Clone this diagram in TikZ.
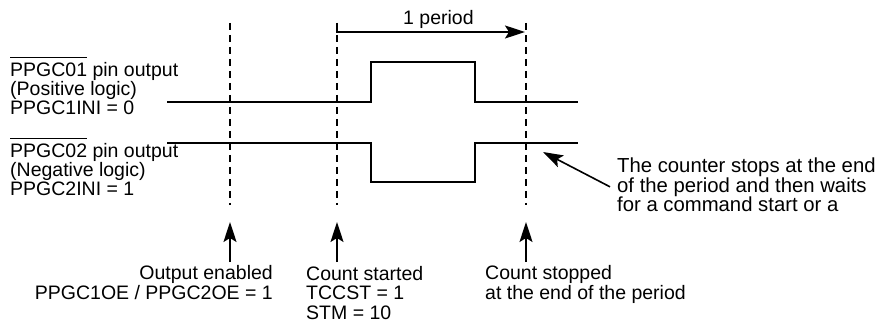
\documentclass[tikz,border=0pt]{standalone}
\usepackage{fontspec}
\setmainfont{Liberation Sans}
\usetikzlibrary{arrows.meta}
% bar over a pin name
\newcommand{\pinbar}[1]{\leavevmode\setbox0\hbox{#1}%
  \rlap{\rule[\dimexpr\ht0+4.5pt\relax]{\wd0}{1.5pt}}\box0\relax}

\tikzset{
  signal/.style={line width=2.2pt},
  marker/.style={line width=1.2pt,dash pattern=on 7pt off 5pt},
  pointer/.style={line width=1.6pt,-{Stealth[length=20pt,width=13pt,inset=4pt]}},
  txt/.style={inner sep=0pt,align=left,font=\fontsize{19.5}{19.4}\selectfont},
}

\begin{document}
\begin{tikzpicture}[x=1pt,y=-1pt]
    \useasboundingbox (0,0) rectangle (878,323);
    % time markers
    \coordinate (en top) at (230,23);
    \coordinate (en bot) at (230,205);
    \coordinate (st top) at (337,23);
    \coordinate (st bot) at (337,205);
    \coordinate (sp top) at (526,23);
    \coordinate (sp bot) at (526,205);
    \draw[marker] (en top) -- (en bot);
    \draw[marker] (st top) -- (st bot);
    \draw[marker] (sp top) -- (sp bot);
    % 1 period
    \coordinate (per end) at (525,32);
    \draw[pointer] (st top) |- (per end);
    \node[txt,anchor=base west] (period) at (403,25) {1 period};
    % positive logic output
    \draw[signal] (167,102) -- (371,102) |- (475,62) |- (578,102);
    \node[txt,anchor=base west] (pos) at (10,115)
      {\pinbar{PPGC01} pin output\\(Positive logic)\\PPGC1INI = 0};
    % negative logic output
    \draw[signal] (167,143) -- (371,143) |- (475,182) |- (578,143);
    \node[txt,anchor=base west] (neg) at (10,196)
      {\pinbar{PPGC02} pin output\\(Negative logic)\\PPGC2INI = 1};
    % note on the stop
    \node[txt,anchor=base west,font=\fontsize{20.3}{15.5}\selectfont] (note) at (617,212)
      {The counter stops at the end\\of the period and then waits\\for a command start or a};
    \coordinate (stop pt) at (543,152);
    \draw[pointer] ([xshift=-7pt,yshift=-2pt]note.west) -- (stop pt);
    % events
    \coordinate (en tip) at (230,222);
    \coordinate (en tail) at (230,262);
    \coordinate (st tip) at (337,222);
    \coordinate (st tail) at (337,262);
    \coordinate (sp tip) at (526,222);
    \coordinate (sp tail) at (526,262);
    \draw[pointer] (en tail) -- (en tip);
    \draw[pointer] (st tail) -- (st tip);
    \draw[pointer] (sp tail) -- (sp tip);
    \node[txt,anchor=base east,align=right] (enabled) at (273,299)
      {Output enabled\\PPGC1OE / PPGC2OE = 1};
    \node[txt,anchor=base west] (started) at (306,319)
      {Count started\\TCCST = 1\\STM = 10};
    \node[txt,anchor=base west] (stopped) at (485,299)
      {Count stopped\\at the end of the period};
\end{tikzpicture}
\end{document}
